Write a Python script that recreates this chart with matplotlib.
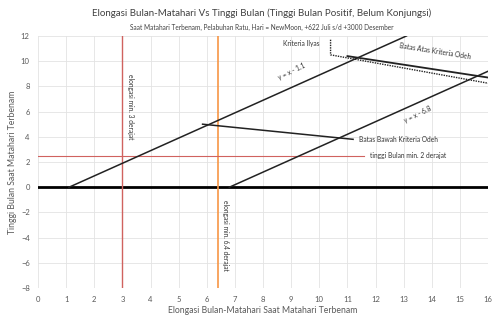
import numpy as np
import matplotlib
matplotlib.use("Agg")
import matplotlib.pyplot as plt

plt.rcParams['font.family'] = ['Lato', 'DejaVu Sans']

# Data
elong_min_a = 3.0       # elongasi min. 3 derajat
elong_min_b = 6.4       # elongasi min. 6.4 derajat
tinggi_min = 2.5        # tinggi Bulan min. 2 derajat
tinggi_min_xmax = 11.6

line1_x = np.array([1.1, 13.1])     # y = x - 1.1
line1_off = 1.1
line2_x = np.array([6.8, 16.0])     # y = x - 6.8
line2_off = 6.8

odeh_bawah_x = [5.85, 11.2]
odeh_bawah_y = [5.0, 3.8]
odeh_atas_x = [11.0, 16.0]
odeh_atas_y = [10.4, 8.7]
ilyas_x = [10.4, 10.4, 16.0]
ilyas_y = [11.7, 10.5, 8.25]

xticks = np.arange(0, 17, 1)
yticks = np.arange(-8, 13, 2)

grey = '#595959'
red = '#d0625f'
orange = '#f79646'

fig = plt.figure(figsize=(4.94, 3.18), dpi=100)
ax = fig.add_axes([0.077, 0.094, 0.911, 0.793])
ax.set_xlim(0, 16)
ax.set_ylim(-8, 12)
ax.set_xticks(xticks)
ax.set_yticks(yticks)
for s in ax.spines.values():
    s.set_visible(False)
ax.tick_params(length=0, labelsize=5.5, colors=grey, pad=6)
for x in xticks:
    ax.axvline(x, color='#e3e3e3', lw=0.6, zorder=0)
for y in yticks:
    ax.axhline(y, color='#e3e3e3', lw=0.6, zorder=0)

# garis nol
ax.plot([0, 16], [0, 0], color='black', lw=2.0)

# batas elongasi & tinggi
ax.plot([elong_min_a, elong_min_a], [-8, 12], color=red, lw=1.0)
ax.plot([elong_min_b, elong_min_b], [-8, 12], color=orange, lw=1.2)
ax.plot([0, tinggi_min_xmax], [tinggi_min, tinggi_min], color=red, lw=0.8)

# garis y = x - c
ax.plot(line1_x, line1_x - line1_off, color='#222222', lw=1.1)
ax.plot(line2_x, line2_x - line2_off, color='#222222', lw=1.1)

# kriteria Odeh & Ilyas
ax.plot(odeh_bawah_x, odeh_bawah_y, color='#222222', lw=1.1)
ax.plot(odeh_atas_x, odeh_atas_y, color='#222222', lw=1.3)
ax.plot(ilyas_x, ilyas_y, color='#222222', lw=1.0, ls=(0, (1, 0.8)))

txt = dict(color='#333333', fontsize=4.8)
ax.text(3.15, 9.0, 'elongasi min. 3 derajat', rotation=-90, va='top', ha='left', **txt)
ax.text(6.55, -1.0, 'elongasi min. 6.4 derajat', rotation=-90, va='top', ha='left', **txt)
ax.text(11.8, tinggi_min, 'tinggi Bulan min. 2 derajat', va='center', ha='left', **txt)
ax.text(11.4, 3.75, 'Batas Bawah Kriteria Odeh', va='center', ha='left', **txt)
ax.text(14.1, 10.8, 'Batas Atas Kriteria Odeh', va='center', ha='center', rotation=-9, **txt)
ax.text(10.0, 11.4, 'Kriteria Ilyas', va='center', ha='right', **txt)
ax.text(9.0, 9.2, 'y = x - 1.1', va='center', ha='center', rotation=26, **txt)
ax.text(13.5, 5.8, 'y = x - 6.8', va='center', ha='center', rotation=26, **txt)

ax.set_xlabel('Elongasi Bulan-Matahari Saat Matahari Terbenam', fontsize=6.2, color=grey, labelpad=2)
ax.set_ylabel('Tinggi Bulan Saat Matahari Terbenam', fontsize=6.2, color=grey, labelpad=3)

fig.text(0.53, 0.957, 'Elongasi Bulan-Matahari Vs Tinggi Bulan (Tinggi Bulan Positif, Belum Konjungsi)',
         ha='center', va='center', fontsize=7.0, color='#404040')
fig.text(0.53, 0.915, 'Saat Matahari Terbenam, Pelabuhan Ratu, Hari = NewMoon, +622 Juli s/d +3000 Desember',
         ha='center', va='center', fontsize=4.7, color='#404040')

fig.savefig('out.png', dpi=100)
